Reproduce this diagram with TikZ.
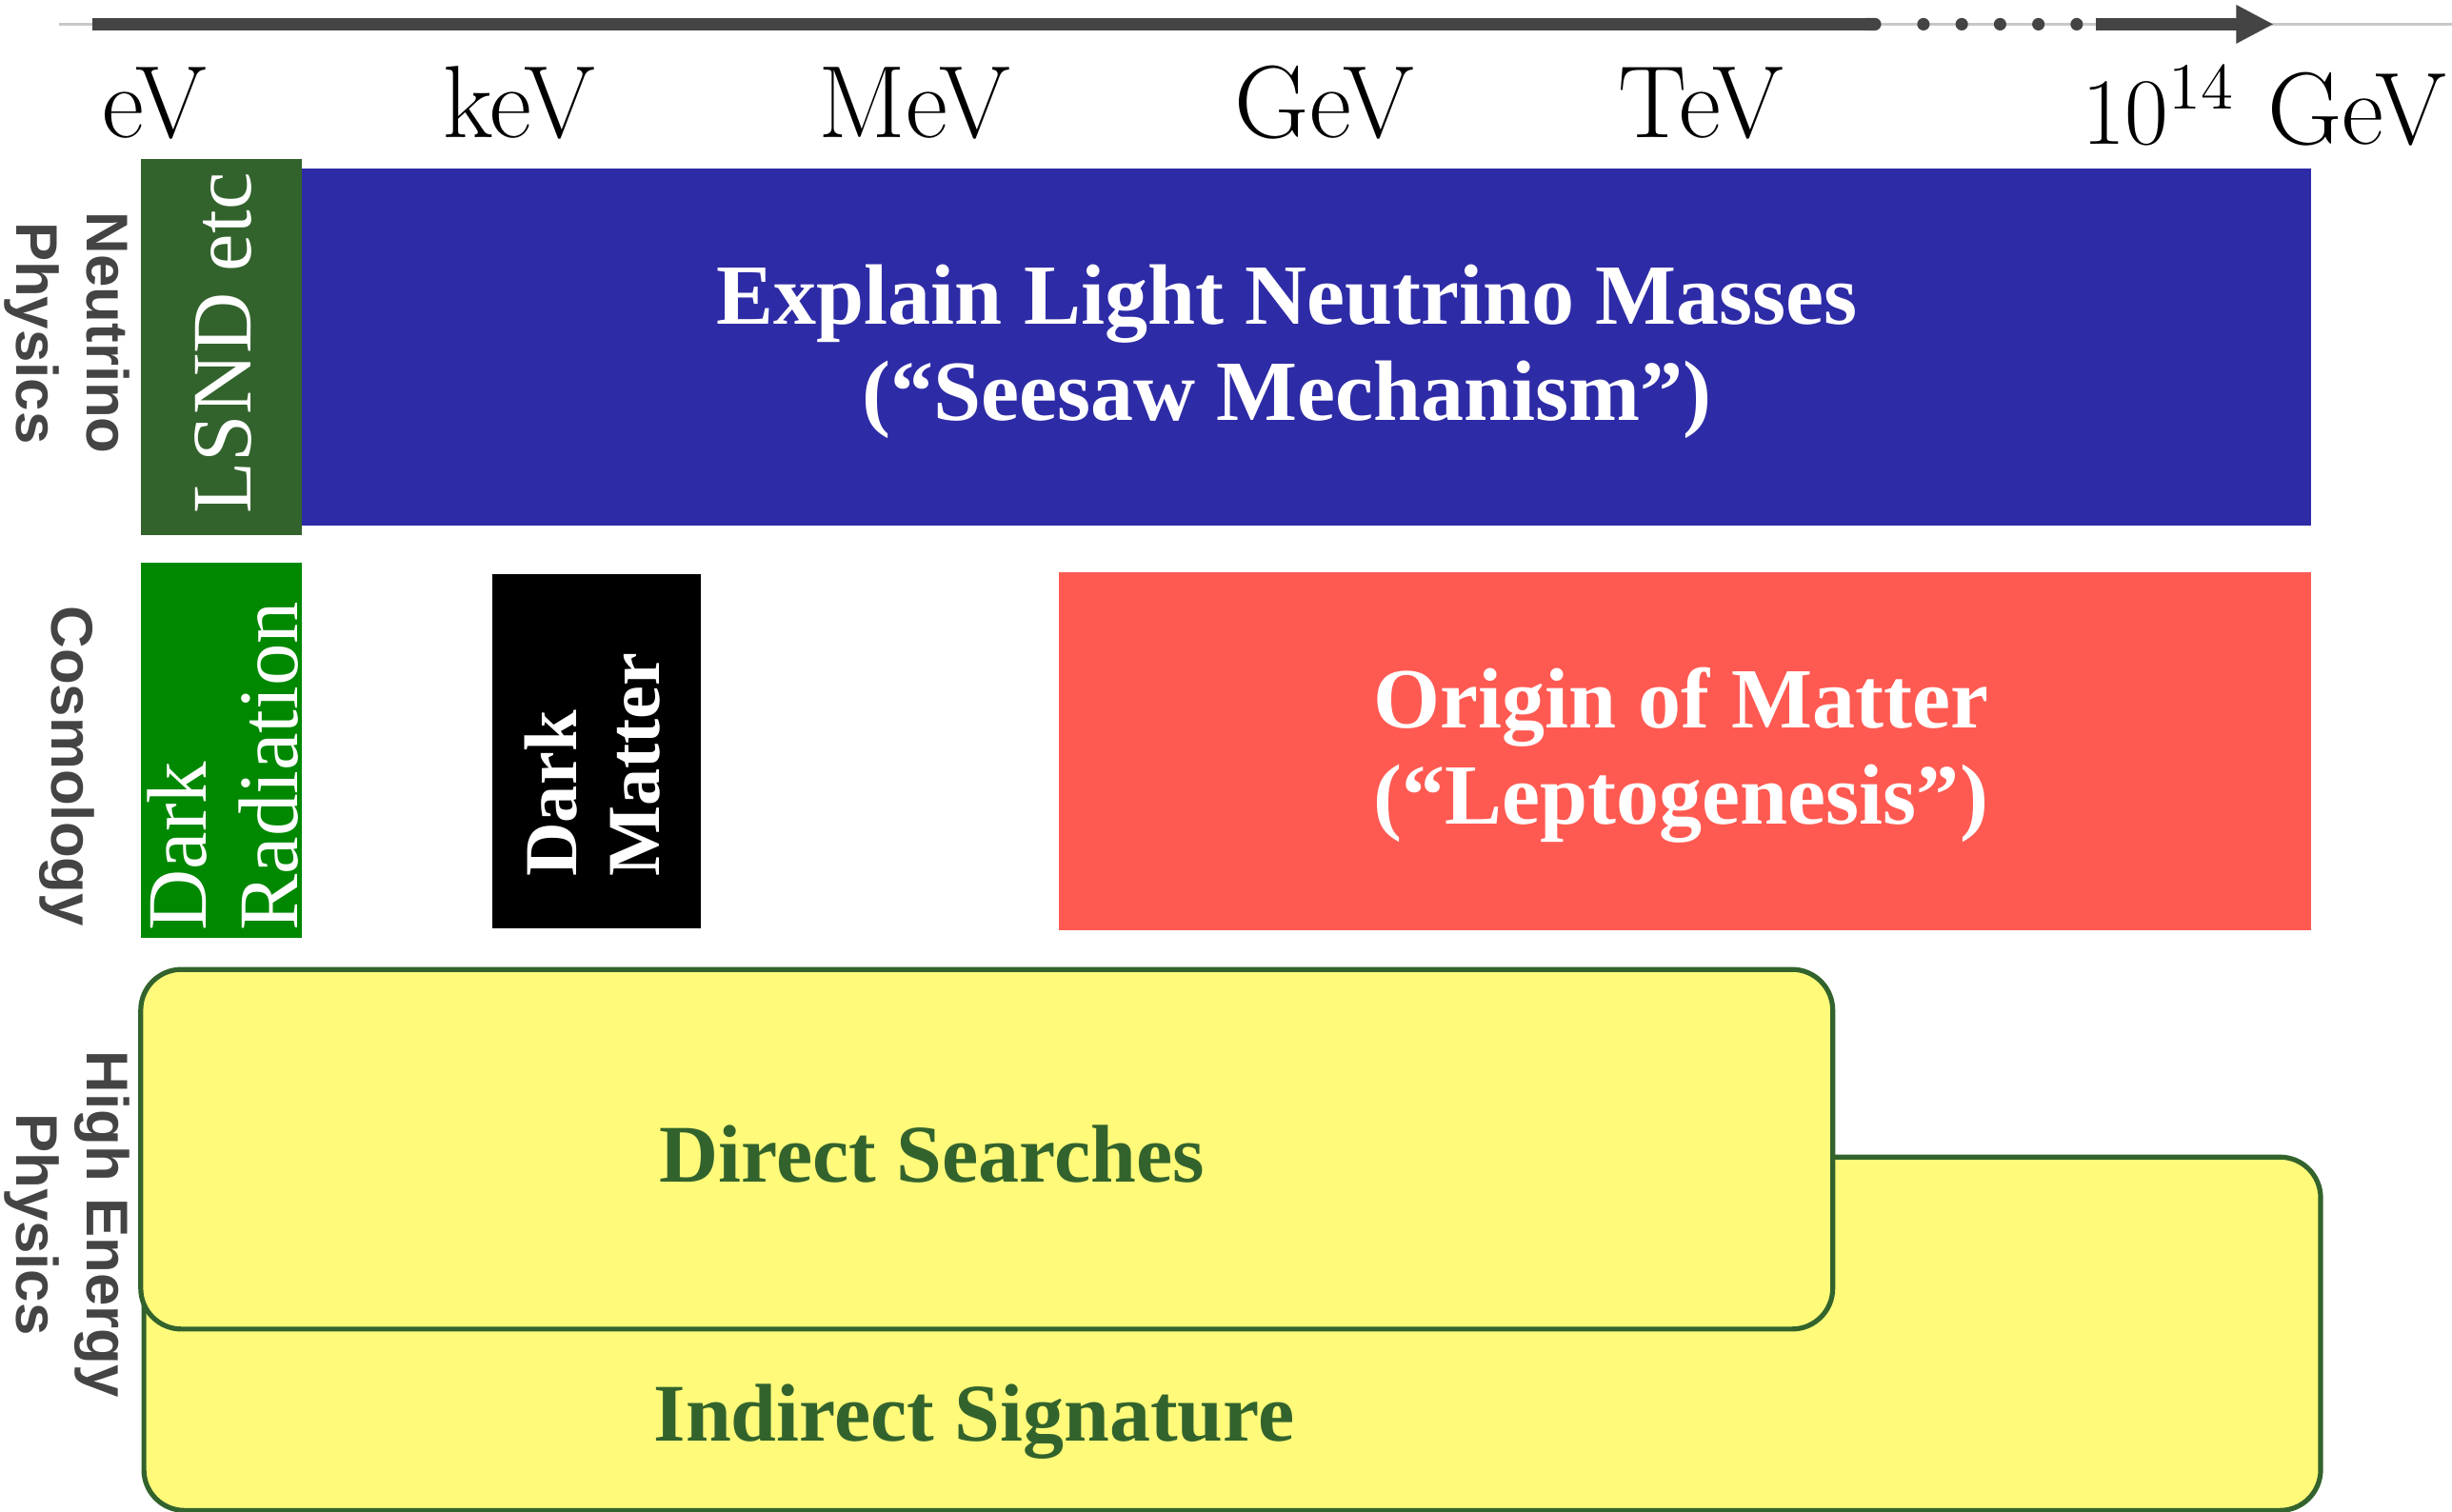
\documentclass[tikz,border=0pt]{standalone}
\usepackage{fontspec}
\newfontfamily\caixafont{Liberation Serif}
\newfontfamily\ladofont{Liberation Sans}
\usepackage{xcolor}
\usetikzlibrary{arrows.meta}
\definecolor{cinzaeixo}{HTML}{444444}
\definecolor{cinzafino}{HTML}{C8C8C8}
\definecolor{azulseesaw}{HTML}{2E2BA6}
\definecolor{verdeescuro}{HTML}{33632D}
\definecolor{verderad}{HTML}{008800}
\definecolor{vermelho}{HTML}{FF5A52}
\definecolor{amarelo}{HTML}{FFFA7A}
\tikzset{
    energia/.style={anchor=base, inner sep=0pt,
        font=\fontsize{18.7pt}{20pt}\selectfont},
    bloco/.style={rectangle, draw=none, inner sep=0pt},
    faixa/.style={bloco, rounded corners=2.6mm, draw=verdeescuro,
        fill=amarelo, line width=0.9pt},
    textobloco/.style={align=center, text=white, inner sep=0pt,
        font=\caixafont\bfseries\fontsize{15.6pt}{17.6pt}\selectfont},
    textovertical/.style={rotate=90, align=left, text=white, inner sep=0pt,
        font=\caixafont\fontsize{15.4pt}{16.5pt}\selectfont},
    textoamarelo/.style={text=verdeescuro, inner sep=0pt,
        font=\caixafont\bfseries\fontsize{14.9pt}{17pt}\selectfont},
    area/.style={rotate=-90, align=center, text=cinzaeixo, inner sep=0pt,
        font=\ladofont\bfseries\fontsize{10.7pt}{12.8pt}\selectfont}
}

\begin{document}
\begin{tikzpicture}[x=0.1mm, y=-0.1mm]
    \useasboundingbox (0,0) rectangle (1568,967);

    % eixo de energia
    \coordinate (fino0) at (38,15.5);
    \coordinate (fino1) at (1568,15.5);
    \coordinate (eixo0) at (59,15.5);
    \coordinate (eixo1) at (1203,15.5);
    \coordinate (seta0) at (1340,15.5);
    \coordinate (seta1) at (1454,15.5);
    \draw[cinzafino, line width=0.15mm] (fino0) -- (fino1);
    \draw[cinzaeixo, line width=0.8mm, -{Round Cap[]}] (eixo0) -- (eixo1);
    \foreach \px in {1230,1254.5,1279,1303.5,1328}
        \fill[cinzaeixo] (\px,15.5) circle[radius=0.4mm];
    \draw[cinzaeixo, line width=0.8mm,
        -{Triangle[length=2.4mm, width=2.3mm]}] (seta0) -- (seta1);

    \node[energia] (ev)  at (99,88)   {eV};
    \node[energia] (kev) at (332,88)  {keV};
    \node[energia] (mev) at (585,88)  {MeV};
    \node[energia] (gev) at (847,88)  {GeV};
    \node[energia] (tev) at (1088,88) {TeV};
    \node[energia] (gut) at (1448,92) {$10^{14}$ GeV};

    % areas
    \node[area] (neutrino) at (43,213) {Neutrino\\Physics};
    \node[area] (cosmo)    at (43,490) {Cosmology};
    \node[area] (hep)      at (43,783) {High Energy\\Physics};

    % linha dos neutrinos
    \node[bloco, fill=verdeescuro, minimum width=10.3mm,
        minimum height=24mm] (lsnd) at (141.5,222) {};
    \node[bloco, fill=azulseesaw, minimum width=128.5mm,
        minimum height=22.8mm] (seesaw) at (835.5,222) {};
    \node[textovertical, align=center] (lsndtxt) at (142.5,219.5) {LSND etc};
    \node[textobloco] (seesawtxt) at (823,225)
        {Explain Light Neutrino Masses\\(“Seesaw Mechanism”)};

    % linha da cosmologia
    \node[bloco, fill=verderad, minimum width=10.3mm,
        minimum height=24mm] (radiacao) at (141.5,480) {};
    \node[bloco, fill=black, minimum width=13.3mm,
        minimum height=22.7mm] (materia) at (381.5,480.5) {};
    \node[bloco, fill=vermelho, minimum width=80.1mm,
        minimum height=22.9mm] (origem) at (1077.5,480.5) {};
    \node[textovertical] (radiacaotxt) at (142.5,490) {Dark\\Radiation};
    \node[textovertical, font=\caixafont\bfseries\fontsize{13.6pt}{15pt}\selectfont]
        (materiatxt) at (379,489) {Dark\\Matter};
    \node[textobloco] (origemtxt) at (1075,483)
        {Origin of Matter\\(“Leptogenesis”)};

    % linha de altas energias
    \node[faixa, minimum width=139.2mm, minimum height=22.6mm]
        (indireta) at (788,853) {};
    \node[faixa, minimum width=108.2mm, minimum height=23mm]
        (direta) at (631,735) {};
    \node[textoamarelo] (diretatxt) at (596,738) {Direct Searches};
    \node[textoamarelo] (indiretatxt) at (623,909) {Indirect Signature};
\end{tikzpicture}
\end{document}
